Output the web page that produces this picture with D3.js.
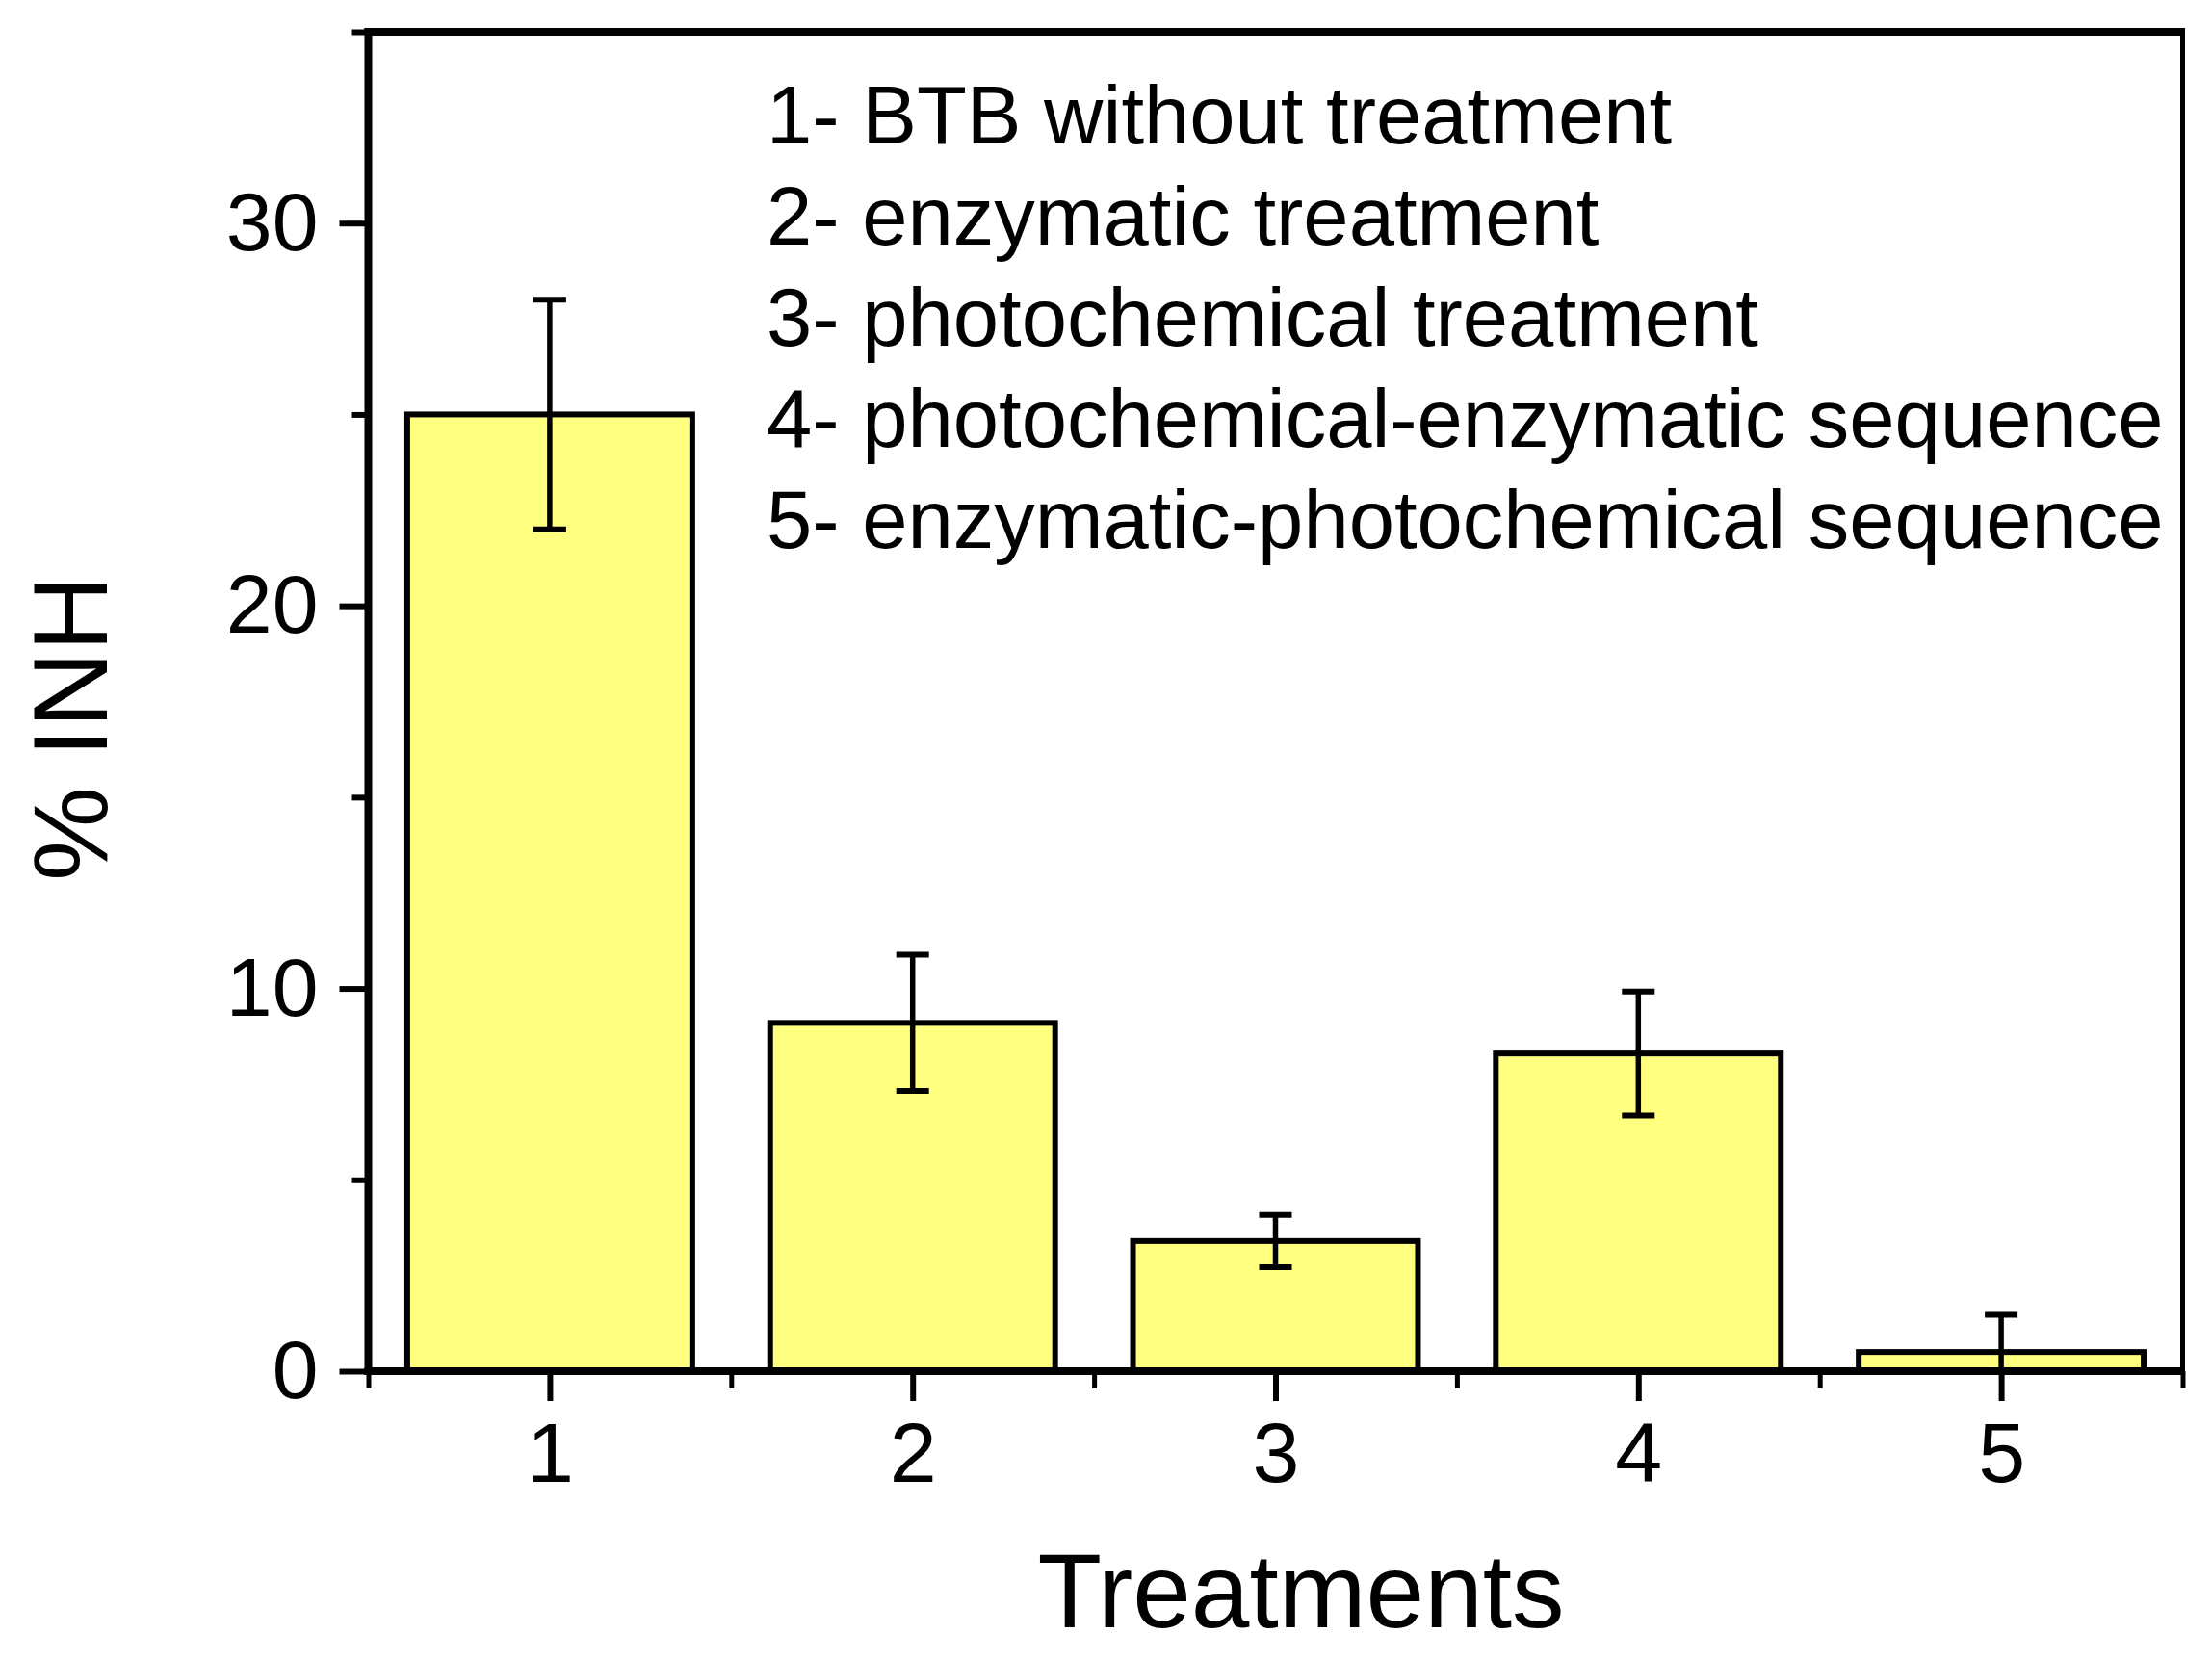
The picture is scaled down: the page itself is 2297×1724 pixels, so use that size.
<!DOCTYPE html>
<html>
<head>
<meta charset="utf-8">
<script src="https://cdn.jsdelivr.net/npm/d3@7"></script>
<style>
  html, body { margin: 0; padding: 0; background: #fff; overflow: hidden; }
  svg { display: block; width: 100vw; height: 100vh; }
  text { font-family: "Liberation Sans", Arial, sans-serif; fill: #000; }
</style>
</head>
<body>
<svg viewBox="0 0 2297 1724" preserveAspectRatio="xMidYMid meet"></svg>
<script>
const treatments = [1, 2, 3, 4, 5];
const inh = [25.0, 9.1, 3.4, 8.3, 0.5];
const inhErr = [3.0, 1.78, 0.68, 1.62, 0.97];
const legendLines = [
  '1- BTB without treatment',
  '2- enzymatic treatment',
  '3- photochemical treatment',
  '4- photochemical-enzymatic sequence',
  '5- enzymatic-photochemical sequence'
];
const yMajor = [0, 10, 20, 30];
const yMinor = [5, 15, 25, 35];
const xMinor = [0.5, 1.5, 2.5, 3.5, 4.5, 5.5];

const svg = d3.select('svg');

const margin = { top: 33, right: 30.5, left: 382.5 };
const width = 2297;
const innerWidth = width - margin.left - margin.right;
const innerHeight = 1424 - margin.top;

const g = svg.append('g')
  .attr('transform', `translate(${margin.left},${margin.top})`);

const xScale = d3.scaleLinear().domain([0.5, 5.5]).range([0, innerWidth]);
const yScale = d3.scaleLinear().domain([0, 35]).range([innerHeight, 0]);

const barWidth = 0.8;

// clip so error bars stop at zero
svg.append('defs').append('clipPath').attr('id', 'plotclip')
  .append('rect').attr('x', 0).attr('y', 0)
  .attr('width', innerWidth).attr('height', innerHeight);

// bars
g.selectAll('rect.bar').data(treatments)
  .enter().append('rect')
  .attr('class', 'bar')
  .attr('x', (d) => xScale(d - barWidth / 2) + 2.75)
  .attr('width', (d) => xScale(d + barWidth / 2) - xScale(d - barWidth / 2) - 5.5)
  .attr('y', (d, i) => yScale(inh[i]))
  .attr('height', (d, i) => yScale(0) - yScale(inh[i]))
  .attr('fill', '#ffff80')
  .attr('stroke', '#000')
  .attr('stroke-width', 6);

// error bars
const errG = g.append('g').attr('clip-path', 'url(#plotclip)');
const capHalf = 17;
treatments.forEach((d, i) => {
  const cx = xScale(d);
  const hi = yScale(inh[i] + inhErr[i]);
  const lo = yScale(inh[i] - inhErr[i]);
  errG.append('line')
    .attr('x1', cx).attr('x2', cx).attr('y1', hi).attr('y2', lo)
    .attr('stroke', '#000').attr('stroke-width', 5.5);
  [hi, lo].forEach((y) => {
    errG.append('line')
      .attr('x1', cx - capHalf).attr('x2', cx + capHalf)
      .attr('y1', y).attr('y2', y)
      .attr('stroke', '#000').attr('stroke-width', 6);
  });
});

// y axis
const yAxis = d3.axisLeft(yScale)
  .tickValues(yMajor)
  .tickSize(30)
  .tickPadding(22)
  .tickFormat(d3.format('d'));
const yAxisG = g.append('g').call(yAxis)
  .attr('font-size', 86)
  .attr('font-family', '"Liberation Sans", Arial, sans-serif');
yAxisG.select('.domain').remove();
yAxisG.selectAll('line').attr('stroke-width', 6);
yAxisG.selectAll('text').attr('fill', '#000');

const yMinorG = g.append('g').call(d3.axisLeft(yScale).tickValues(yMinor).tickSize(17).tickFormat(''));
yMinorG.select('.domain').remove();
yMinorG.selectAll('line').attr('stroke-width', 6);

// x axis
const xAxis = d3.axisBottom(xScale)
  .tickValues(treatments)
  .tickSize(31)
  .tickPadding(22)
  .tickFormat(d3.format('d'));
const xAxisG = g.append('g').call(xAxis)
  .attr('transform', `translate(0,${innerHeight})`)
  .attr('font-size', 88)
  .attr('font-family', '"Liberation Sans", Arial, sans-serif');
xAxisG.select('.domain').remove();
xAxisG.selectAll('line').attr('stroke-width', 6);
xAxisG.selectAll('text').attr('fill', '#000');

const xMinorG = g.append('g').call(d3.axisBottom(xScale).tickValues(xMinor).tickSize(18).tickFormat(''))
  .attr('transform', `translate(0,${innerHeight})`);
xMinorG.select('.domain').remove();
xMinorG.selectAll('line').attr('stroke-width', 5);

// frame
g.append('line').attr('x1', -4).attr('x2', innerWidth + 2.5).attr('y1', 0).attr('y2', 0)
  .attr('stroke', '#000').attr('stroke-width', 8);
g.append('line').attr('x1', -4).attr('x2', innerWidth + 2.5).attr('y1', innerHeight).attr('y2', innerHeight)
  .attr('stroke', '#000').attr('stroke-width', 8);
g.append('line').attr('x1', 0).attr('x2', 0).attr('y1', -4).attr('y2', innerHeight + 4)
  .attr('stroke', '#000').attr('stroke-width', 8);
g.append('line').attr('x1', innerWidth).attr('x2', innerWidth).attr('y1', -4).attr('y2', innerHeight + 4)
  .attr('stroke', '#000').attr('stroke-width', 5);

// axis titles
svg.append('text')
  .attr('x', 1351)
  .attr('y', 1690)
  .attr('text-anchor', 'middle')
  .attr('font-size', 109)
  .text('Treatments');

svg.append('text')
  .attr('transform', 'translate(111,756) rotate(-90)')
  .attr('text-anchor', 'middle')
  .attr('font-size', 110)
  .text('% INH');

// legend
const legendG = svg.append('g');
legendLines.forEach((t, i) => {
  legendG.append('text')
    .attr('x', 796)
    .attr('y', 149 + i * 105)
    .attr('font-size', 85)
    .text(t);
});
</script>
</body>
</html>
